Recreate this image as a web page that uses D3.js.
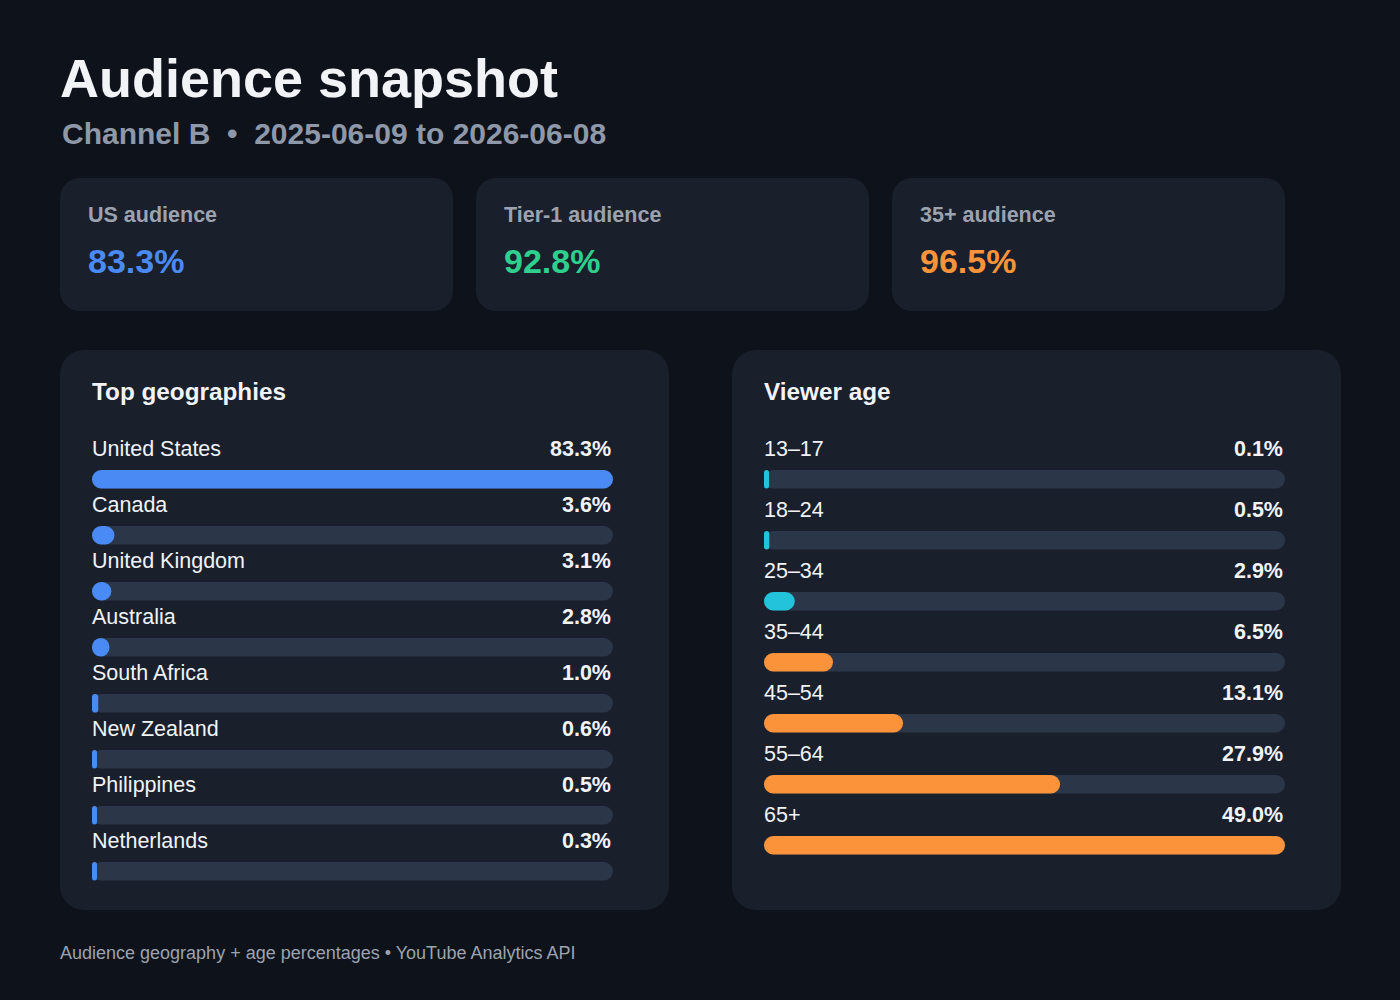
<!DOCTYPE html>
<html>
<head>
<meta charset="utf-8">
<title>Audience snapshot</title>
<script src="https://cdn.jsdelivr.net/npm/d3@7"></script>
<style>
    html, body { margin: 0; padding: 0; background: #0e121b; }
    svg { display: block; font-family: "Liberation Sans", Arial, Helvetica, sans-serif; }
</style>
</head>
<body>
<div id="chart"></div>
<script>
// Audience snapshot — KPI cards plus two horizontal bar panels.

var kpiLabels = ['US audience', 'Tier-1 audience', '35+ audience'];
var kpiValues = [83.3, 92.8, 96.5];

var geoNames = ['United States', 'Canada', 'United Kingdom', 'Australia',
    'South Africa', 'New Zealand', 'Philippines', 'Netherlands'];
var geoValues = [83.3, 3.6, 3.1, 2.8, 1.0, 0.6, 0.5, 0.3];

var ageGroups = ['13–17', '18–24', '25–34', '35–44', '45–54', '55–64', '65+'];
var ageValues = [0.1, 0.5, 2.9, 6.5, 13.1, 27.9, 49.0];

(function () {
    'use strict';

    var W = 1400, H = 1000;
    var colors = {
        bg: '#0e121b',
        card: '#1a1f2c',
        track: '#2c3649',
        text: '#f1f3f7',
        muted: '#9ca3af',
        sub: '#8e98a8',
        blue: '#4a8af4',
        green: '#2fcf8e',
        orange: '#fb933b',
        cyan: '#22c3db'
    };
    var kpiColors = [colors.blue, colors.green, colors.orange];

    var svg = d3.select('#chart').append('svg')
        .attr('width', W)
        .attr('height', H)
        .attr('viewBox', [0, 0, W, H]);

    svg.append('rect').attr('width', W).attr('height', H).attr('fill', colors.bg);

    // header
    svg.append('text')
        .attr('x', 60).attr('y', 97)
        .attr('fill', colors.text)
        .attr('font-size', 54).attr('font-weight', 700)
        .text('Audience snapshot');

    svg.append('text')
        .attr('x', 62).attr('y', 144)
        .attr('fill', colors.sub)
        .attr('font-size', 30).attr('font-weight', 700)
        .attr('xml:space', 'preserve')
        .text('Channel B  \u2022  2025-06-09 to 2026-06-08');

    // KPI cards
    var cardW = 393, cardGap = 23;
    var cards = svg.append('g').selectAll('g')
        .data(kpiLabels.map(function (l, i) { return { label: l, value: kpiValues[i], i: i }; }))
        .join('g')
        .attr('transform', function (d) { return 'translate(' + (60 + d.i * (cardW + cardGap)) + ',178)'; });

    cards.append('rect')
        .attr('width', cardW).attr('height', 133)
        .attr('rx', 20)
        .attr('fill', colors.card);

    cards.append('text')
        .attr('x', 28).attr('y', 44)
        .attr('fill', colors.muted)
        .attr('font-size', 21.5).attr('font-weight', 700)
        .text(function (d) { return d.label; });

    cards.append('text')
        .attr('x', 28).attr('y', 95)
        .attr('fill', function (d) { return kpiColors[d.i]; })
        .attr('font-size', 34).attr('font-weight', 700)
        .text(function (d) { return d.value.toFixed(1) + '%'; });

    // bar panels
    function panel(opts) {
        var g = svg.append('g').attr('transform', 'translate(' + opts.x + ',350)');

        g.append('rect')
            .attr('width', 609).attr('height', 560)
            .attr('rx', 24)
            .attr('fill', colors.card);

        g.append('text')
            .attr('x', 32).attr('y', 50)
            .attr('fill', colors.text)
            .attr('font-size', 24.3).attr('font-weight', 700)
            .text(opts.title);

        var x = d3.scaleLinear()
            .domain([0, d3.max(opts.values)])
            .range([0, 520]);

        var y = d3.scaleLinear()
            .domain([0, 1])
            .range([120, 120 + opts.step]);

        var barH = 18.5;
        var rows = g.append('g').attr('transform', 'translate(32,0)')
            .selectAll('g')
            .data(opts.labels.map(function (l, i) { return { label: l, value: opts.values[i], i: i }; }))
            .join('g')
            .attr('transform', function (d) { return 'translate(0,' + y(d.i) + ')'; });

        rows.append('text')
            .attr('y', -14)
            .attr('fill', colors.text)
            .attr('font-size', 21.5)
            .text(function (d) { return d.label; });

        rows.append('text')
            .attr('x', 519).attr('y', -14)
            .attr('text-anchor', 'end')
            .attr('fill', colors.text)
            .attr('font-size', 21.5).attr('font-weight', 700)
            .text(function (d) { return d.value.toFixed(1) + '%'; });

        rows.append('rect')
            .attr('width', x.range()[1] + 1).attr('height', barH)
            .attr('rx', barH / 2)
            .attr('fill', colors.track);

        rows.append('rect')
            .attr('width', function (d) { return Math.max(5, x(d.value) + (d.value === d3.max(opts.values) ? 1 : 0)); })
            .attr('height', barH)
            .attr('rx', function (d) { return Math.min(barH / 2, Math.max(5, x(d.value)) / 2); })
            .attr('fill', function (d) { return opts.color(d); });
    }

    panel({
        x: 60,
        title: 'Top geographies',
        labels: geoNames,
        values: geoValues,
        step: 56,
        color: function () { return colors.blue; }
    });

    panel({
        x: 732,
        title: 'Viewer age',
        labels: ageGroups,
        values: ageValues,
        step: 61,
        color: function (d) { return parseInt(d.label, 10) >= 35 ? colors.orange : colors.cyan; }
    });

    // footer
    svg.append('text')
        .attr('x', 60).attr('y', 959)
        .attr('fill', colors.muted)
        .attr('font-size', 18)
        .text('Audience geography + age percentages \u2022 YouTube Analytics API');
})();
</script>
</body>
</html>
